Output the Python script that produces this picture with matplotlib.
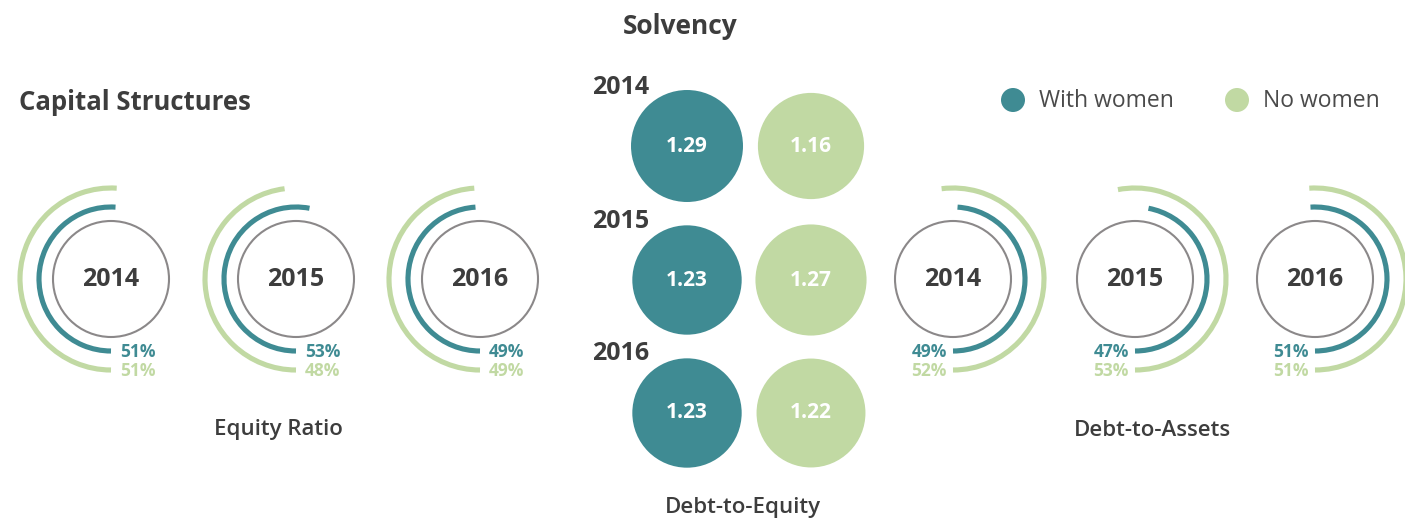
import matplotlib
matplotlib.use("Agg")
import matplotlib.pyplot as plt
from matplotlib.patches import Arc, Circle
import numpy as np

plt.rcParams["font.family"] = ["Open Sans", "DejaVu Sans"]

years = ["2014", "2015", "2016"]
equity_with = [51, 53, 49]
equity_no = [51, 48, 49]
dta_with = [49, 47, 51]
dta_no = [52, 53, 51]
de_with = [1.29, 1.23, 1.23]
de_no = [1.16, 1.27, 1.22]

TEAL = "#3f8b93"
GREEN = "#c1d9a3"
GRAY = "#8b8889"
DARK = "#3d3d3d"

W, H = 1405, 518
fig = plt.figure(figsize=(W / 100, H / 100), dpi=100)
ax = fig.add_axes([0, 0, 1, 1])
ax.set_xlim(0, W)
ax.set_ylim(H, 0)
ax.axis("off")

CY = 279
R_IN, R_TEAL, R_GREEN = 58, 72, 91
LW = 3.7


def ring_group(xs, with_v, no_v, side):
    for cx, yr, vw, vn in zip(xs, years, with_v, no_v):
        ax.add_patch(Circle((cx, CY), R_IN, fill=False, ec=GRAY, lw=1.5))
        ax.text(cx, CY, yr, ha="center", va="center", fontsize=18,
                fontweight="bold", color=DARK)
        for r, v, c in ((R_TEAL, vw, TEAL), (R_GREEN, vn, GREEN)):
            span = 360 * v / 100
            if side == "left":
                t1, t2 = 90, 90 + span
            else:
                t1, t2 = 90 - span, 90
            ax.add_patch(Arc((cx, CY), 2 * r, 2 * r, theta1=t1, theta2=t2,
                             color=c, lw=LW, capstyle="butt"))
            if side == "left":
                ax.text(cx + 9, CY + r + 1, f"{v}%", ha="left", va="center",
                        fontsize=12.5, fontweight="bold", color=c)
            else:
                ax.text(cx - 6, CY + r + 1, f"{v}%", ha="right", va="center",
                        fontsize=12.5, fontweight="bold", color=c)


ring_group([111, 296, 480], equity_with, equity_no, "left")
ring_group([953, 1135, 1315], dta_with, dta_no, "right")

# debt-to-equity bubbles, area proportional to value
K = 49.3
bub_y = [146, 280, 413]
for yr, y, vw, vn in zip(years, bub_y, de_with, de_no):
    for x, v, c in ((687, vw, TEAL), (811, vn, GREEN)):
        ax.add_patch(Circle((x, y), K * np.sqrt(v), color=c, lw=0))
        ax.text(x, y, f"{v:.2f}", ha="center", va="center", fontsize=15,
                fontweight="bold", color="white")
    ax.text(592, y - 59, yr, ha="left", va="center", fontsize=18,
            fontweight="bold", color=DARK)

ax.text(680, 27, "Solvency", ha="center", va="center", fontsize=19,
        fontweight="bold", color=DARK)
ax.text(19, 102, "Capital Structures", ha="left", va="center", fontsize=18.5,
        fontweight="bold", color=DARK)
ax.text(278, 430, "Equity Ratio", ha="center", va="center", fontsize=16,
        fontweight="semibold", color=DARK)
ax.text(1152, 430, "Debt-to-Assets", ha="center", va="center", fontsize=16,
        fontweight="semibold", color=DARK)
ax.text(743, 507, "Debt-to-Equity", ha="center", va="center", fontsize=16,
        fontweight="semibold", color=DARK)

# legend
for x, c, lab in ((1013, TEAL, "With women"), (1237, GREEN, "No women")):
    ax.add_patch(Circle((x, 100), 12, color=c, lw=0))
    ax.text(x + 26, 101, lab, ha="left", va="center", fontsize=16.5,
            color="#4a4a4a")

fig.savefig("out.png", dpi=100, facecolor="white")
